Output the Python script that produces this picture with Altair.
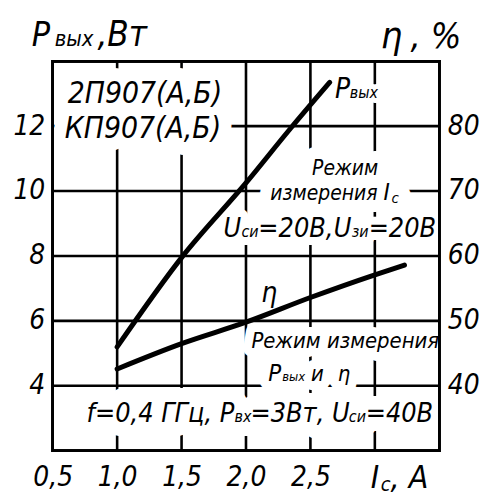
import altair as alt
import pandas as pd

# ---- data ----
I_p = [1.0, 1.5, 2.0, 2.35, 2.65]
P_out = [5.2, 7.95, 10.25, 11.95, 13.35]
I_eta = [1.0, 1.5, 2.0, 2.5, 3.0, 3.23]
eta = [42.6, 46.5, 49.8, 53.6, 57.1, 58.6]

x_ticks = [0.5, 1.0, 1.5, 2.0, 2.5, 3.0]
x_grid = [1.0, 1.5, 2.0, 2.5, 3.0]
p_ticks = [4, 6, 8, 10, 12]
eta_ticks = [40, 50, 60, 70, 80]

X_DOM = [0.5, 3.5]
P_DOM = [2, 14]
ETA_DOM = [30, 90]

W, H = 389, 392
FONT = "DejaVu Sans Condensed"
INK = "black"

ann_I = [0.338, 0.515, 0.847, 3.045, 3.276,
         0.616, 0.593,
         2.690, 2.806,
         2.513, 2.189, 3.068, 3.130,
         1.826, 1.965, 2.096, 2.682, 2.821, 2.952,
         2.119,
         2.042, 2.173, 2.281, 2.505, 2.713,
         0.762, 1.911, 2.035, 2.798, 2.929,
         2.968, 3.045, 3.122]
ann_P = [14.46, 14.46, 14.46, 14.40, 14.40,
         12.71, 11.64,
         12.87, 12.87,
         10.48, 9.715, 9.715, 9.62,
         8.58, 8.58, 8.58, 8.58, 8.58, 8.58,
         6.59,
         5.15, 4.14, 4.14, 4.14, 4.14,
         2.89, 2.89, 2.89, 2.89, 2.89,
         0.838, 0.746, 0.838]
ann_text = ["P", "вых", ",Вт", "η", ", %",
            "2П907(А,Б)", "КП907(А,Б)",
            "P", "вых",
            "Режим", "измерения", "I", "c",
            "U", "си", "=20В,", "U", "зи", "=20В",
            "η",
            "Режим измерения", "P", "вых", "и", "η",
            "f=0,4 ГГц, P", "вх", "=3Вт, U", "си", "=40В",
            "I", "c", ", A"]
ann_size = [34, 22, 35, 38, 36,
            30, 30,
            28, 16,
            21, 21, 24, 15,
            27, 16, 27, 27, 16, 27,
            28,
            22, 24, 13, 22, 22,
            27, 16, 27, 16, 27,
            32, 20, 32]
ann_halo = [0, 0, 0, 0, 0,
            26, 26,
            10, 10,
            24, 24, 24, 24,
            16, 16, 16, 16, 16, 16,
            10,
            18, 18, 18, 18, 18,
            28, 28, 28, 28, 28,
            0, 0, 0]

p_df = pd.DataFrame({"I": I_p, "P": P_out})
eta_df = pd.DataFrame({"I": I_eta, "eta": eta})
ann_df = pd.DataFrame({"I": ann_I, "P": ann_P, "text": ann_text,
                       "size": ann_size, "halo": ann_halo})
xg_df = pd.DataFrame({"I": x_grid})
pg_df = pd.DataFrame({"P": p_ticks})

xs = alt.Scale(domain=X_DOM, nice=False, zero=False)
ps = alt.Scale(domain=P_DOM, nice=False, zero=False)
es = alt.Scale(domain=ETA_DOM, nice=False, zero=False)

lab = dict(labelFont=FONT, labelFontStyle="italic", labelColor="black",
           grid=False, ticks=False, domain=False, title=None, labelOverlap=False)

x_axis = alt.Axis(values=x_ticks,
                  labelExpr="datum.value >= 3 ? '' : replace(format(datum.value, '.1f'), '.', ',')",
                  labelFontSize=28, labelPadding=13, labelFlush=False, **lab)
p_axis = alt.Axis(values=p_ticks, labelFontSize=28, labelPadding=8, **lab)
e_axis = alt.Axis(values=eta_ticks, orient="right", labelFontSize=28,
                  labelPadding=8, **lab)

X = lambda f: alt.X(f, scale=xs, axis=x_axis)
Y = lambda f: alt.Y(f, scale=ps, axis=p_axis)

vgrid = alt.Chart(xg_df).mark_rule(stroke=INK, strokeWidth=2.6).encode(x=X("I:Q"))
hgrid = alt.Chart(pg_df).mark_rule(stroke=INK, strokeWidth=2.6).encode(y=Y("P:Q"))

base_txt = alt.Chart(ann_df).encode(
    x=X("I:Q"), y=Y("P:Q"),
    text="text:N",
    size=alt.Size("size:Q", scale=None),
)
halo = base_txt.mark_text(align="left", baseline="alphabetic", font=FONT,
                          fontStyle="italic", fill="white", stroke="white",
                          strokeJoin="round").encode(
    strokeWidth=alt.StrokeWidth("halo:Q", scale=None))
txt = base_txt.mark_text(align="left", baseline="alphabetic", font=FONT,
                         fontStyle="italic", color="black")

frame = alt.Chart(p_df).mark_rect(filled=False, stroke="black", strokeWidth=2.5).encode(
    x=alt.datum(X_DOM[0], scale=xs, axis=x_axis),
    x2=alt.datum(X_DOM[1]),
    y=alt.datum(P_DOM[0], scale=ps, axis=p_axis),
    y2=alt.datum(P_DOM[1]),
)

p_line = alt.Chart(p_df).mark_line(color="black", strokeWidth=5, strokeCap="round",
                                   interpolate="monotone").encode(
    x=X("I:Q"), y=Y("P:Q"),
)

eta_line = alt.Chart(eta_df).mark_line(color="black", strokeWidth=5, strokeCap="round",
                                       interpolate="monotone").encode(
    x=X("I:Q"),
    y=alt.Y("eta:Q", scale=es, axis=e_axis),
)

left = alt.layer(vgrid, hgrid, halo, txt, frame, p_line)
chart = alt.layer(left, eta_line).resolve_scale(y="independent").properties(
    width=W, height=H,
    autosize=alt.AutoSizeParams(type="none"),
    padding={"left": 45, "top": 52, "right": 42, "bottom": 44},
    background="white",
).configure_view(stroke=None)

chart.save("out.html", embed_options={"renderer": "svg", "actions": False})
